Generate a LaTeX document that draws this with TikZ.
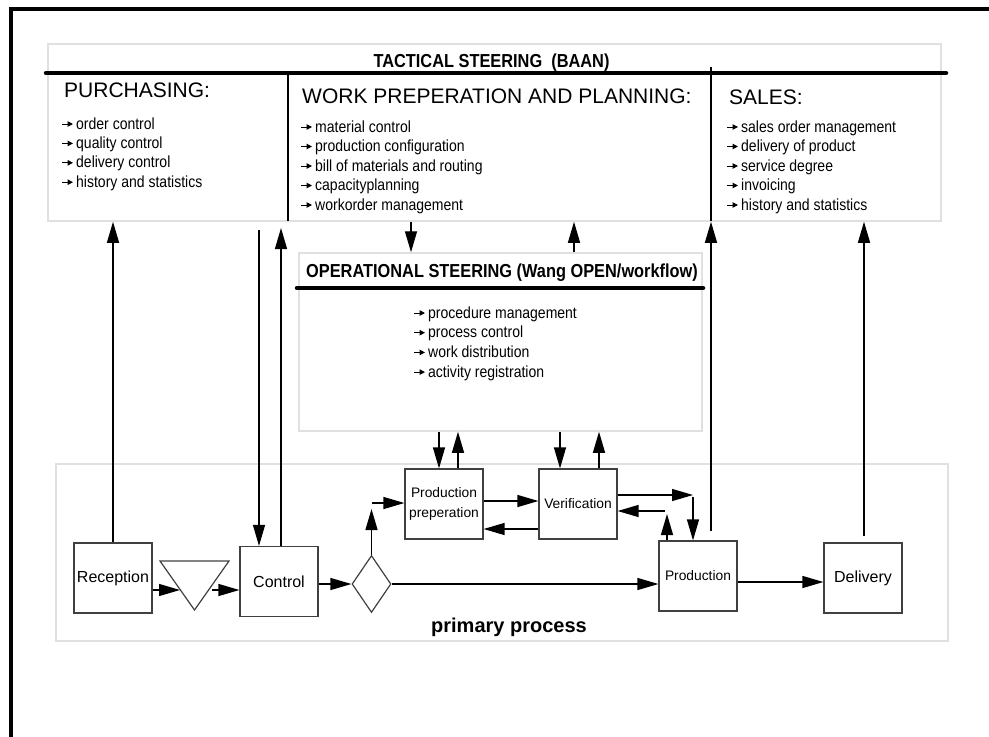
\documentclass[tikz,border=0pt]{standalone}
\usepackage{fontspec}
\setmainfont{Liberation Sans}
\newfontfamily\tallsans[FakeStretch=0.87]{Liberation Sans}
\usetikzlibrary{arrows.meta,calc,shapes.geometric}
\begin{document}
\begin{tikzpicture}[x=1pt,y=-1pt,
  arr/.style={line width=1.3pt, -{Triangle[length=21pt,width=12pt]}},
  divider/.style={line width=1.3pt},
  pbox/.style={draw=black!75, line width=1.2pt, minimum width=78pt, minimum height=70pt, inner sep=0pt, align=center},
  panel/.style={draw=black!12, line width=1.5pt, inner sep=0pt},
  heavybar/.style={line width=4.5pt, line cap=round},
  head/.style={font=\fontsize{21}{24}\selectfont, anchor=base west, inner sep=0pt},
  ttl/.style={font=\tallsans\bfseries\fontsize{18.8}{21}\selectfont, anchor=base, inner sep=0pt},
  item/.style={font=\tallsans\fontsize{16.1}{18}\selectfont, anchor=base west, inner sep=0pt},
  bul/.style={line width=1pt, -{Triangle[length=5.5pt,width=5.5pt]}},
  bigtxt/.style={font=\fontsize{16}{19}\selectfont},
  smalltxt/.style={font=\fontsize{13.8}{20}\selectfont},
]
\useasboundingbox (0,0) rectangle (989,737);
% frame
\draw[line width=4pt] (11,737) -- (11,9) -- (989,9);

% panels
\node[panel, minimum width=893pt, minimum height=177pt] (tac) at (494.5,132.5) {};
\node[panel, minimum width=403pt, minimum height=178pt] (op) at (500.5,342) {};
\node[panel, minimum width=892pt, minimum height=177pt] (prim) at (502,552.5) {};

% tactical
\node[ttl] (tacT) at (491.5,67) {TACTICAL STEERING\ \ (BAAN)};
\draw[heavybar] (46,73) -- (946,73);
\draw[divider] (288,73) -- (288,221);
\draw[divider] (711,67) -- (711,221);

\node[head] (hpu) at (64,97) {PURCHASING:};
\node[head] (hwp) at (302,103) {WORK PREPERATION AND PLANNING:};
\node[head] (hsa) at (729,104) {SALES:};

\foreach \t [count=\i] in {order control, quality control, delivery control, history and statistics}{
  \node[item] (pu\i) at (76,{129+19.4*(\i-1)}) {\t};
  \draw[bul] ($(pu\i.base west)+(-14,-5)$) -- ($(pu\i.base west)+(-3,-5)$);
}
\foreach \t [count=\i] in {material control, production configuration, bill of materials and routing, capacityplanning, workorder management}{
  \node[item] (wp\i) at (315,{132+19.5*(\i-1)}) {\t};
  \draw[bul] ($(wp\i.base west)+(-14,-5)$) -- ($(wp\i.base west)+(-3,-5)$);
}
\foreach \t [count=\i] in {sales order management, delivery of product, service degree, invoicing, history and statistics}{
  \node[item] (sa\i) at (741,{132+19.5*(\i-1)}) {\t};
  \draw[bul] ($(sa\i.base west)+(-14,-5)$) -- ($(sa\i.base west)+(-3,-5)$);
}

% operational
\node[ttl] (opT) at (502,277) {OPERATIONAL STEERING (Wang OPEN/workflow)};
\draw[heavybar] (297,288) -- (703,288);
\foreach \t [count=\i] in {procedure management, process control, work distribution, activity registration}{
  \node[item] (op\i) at (428,{318+19.7*(\i-1)}) {\t};
  \draw[bul] ($(op\i.base west)+(-14,-5)$) -- ($(op\i.base west)+(-3,-5)$);
}

% primary process
\node[font=\bfseries\fontsize{20}{24}\selectfont, anchor=base, inner sep=0pt] (primT) at (509,632) {primary process};

\node[pbox, bigtxt] (rec) at (113,578) {Reception};
\node[pbox, bigtxt] (ctl) at (279,581.5) {Control};
\node[pbox, bigtxt] (del) at (863,578) {Delivery};
\node[pbox, smalltxt] (pp) at (444,504) {Production\\preperation};
\node[pbox, smalltxt] (ver) at (578,504) {Verification};
\node[pbox, smalltxt] (prod) at (698,576) {Production};
\node[diamond, draw=black!75, line width=1.2pt, minimum width=39pt, minimum height=57pt, inner sep=0pt] (dia) at (371.5,584) {};
\draw[draw=black!75, line width=1.2pt] (160,561) -- (229,561) -- (194.5,610) -- cycle;
\coordinate (triL) at (180,590);
\coordinate (triR) at (212,590);

% horizontal flow
\draw[arr] (rec.east |- triL) -- (triL);
\draw[arr] (triR) -- (ctl.west |- triR);
\draw[arr] (ctl.east |- dia.west) -- (dia.west);
\draw[arr] (dia.east) -- (prod.west |- dia.east);
\coordinate (diaUp) at (371.5,509);
\draw[arr] (dia.north) -- (diaUp);
\coordinate (ppIn) at (372,503);
\draw[arr] (ppIn) -- (pp.west |- ppIn);
\draw[arr] ([yshift=3pt]pp.east) -- ([yshift=3pt]ver.west);
\draw[arr] ([yshift=-25pt]ver.west) -- ([yshift=-25pt]pp.east);
\coordinate (c1) at (693,495);
\draw[arr] ([yshift=9pt]ver.east) -- (c1);
\coordinate (c2) at (693,497);
\draw[arr] (c2) -- (c2 |- prod.north);
\coordinate (c3) at (667,514);
\draw[arr] (c3 |- prod.north) -- (c3);
\coordinate (c4) at (665,511);
\draw[arr] (c4) -- (ver.east |- c4);
\coordinate (pdOut) at ([yshift=-6pt]prod.east);
\draw[arr] (pdOut) -- (del.west |- pdOut);

% vertical links
\draw[arr] (rec.north) -- (rec.north |- tac.south);
\coordinate (c5) at (259,230);
\draw[arr] (c5) -- (c5 |- ctl.north);
\coordinate (c6) at (281,228);
\draw[arr] (c6 |- ctl.north) -- (c6);
\coordinate (c7) at (411,0);
\draw[arr] (c7 |- tac.south) -- (c7 |- op.north);
\coordinate (c8) at (574,0);
\draw[arr] (c8 |- op.north) -- (c8 |- tac.south);
\coordinate (c9) at (711,531);
\draw[arr] (c9) -- (c9 |- tac.south);
\coordinate (c10) at (864,536);
\draw[arr] (c10) -- (c10 |- tac.south);
\coordinate (c11) at (439,0);
\draw[arr] (c11 |- op.south) -- (c11 |- pp.north);
\coordinate (c12) at (458,0);
\draw[arr] (c12 |- pp.north) -- (c12 |- op.south);
\coordinate (c13) at (560,0);
\draw[arr] (c13 |- op.south) -- (c13 |- ver.north);
\coordinate (c14) at (599,0);
\draw[arr] (c14 |- ver.north) -- (c14 |- op.south);
\end{tikzpicture}
\end{document}
